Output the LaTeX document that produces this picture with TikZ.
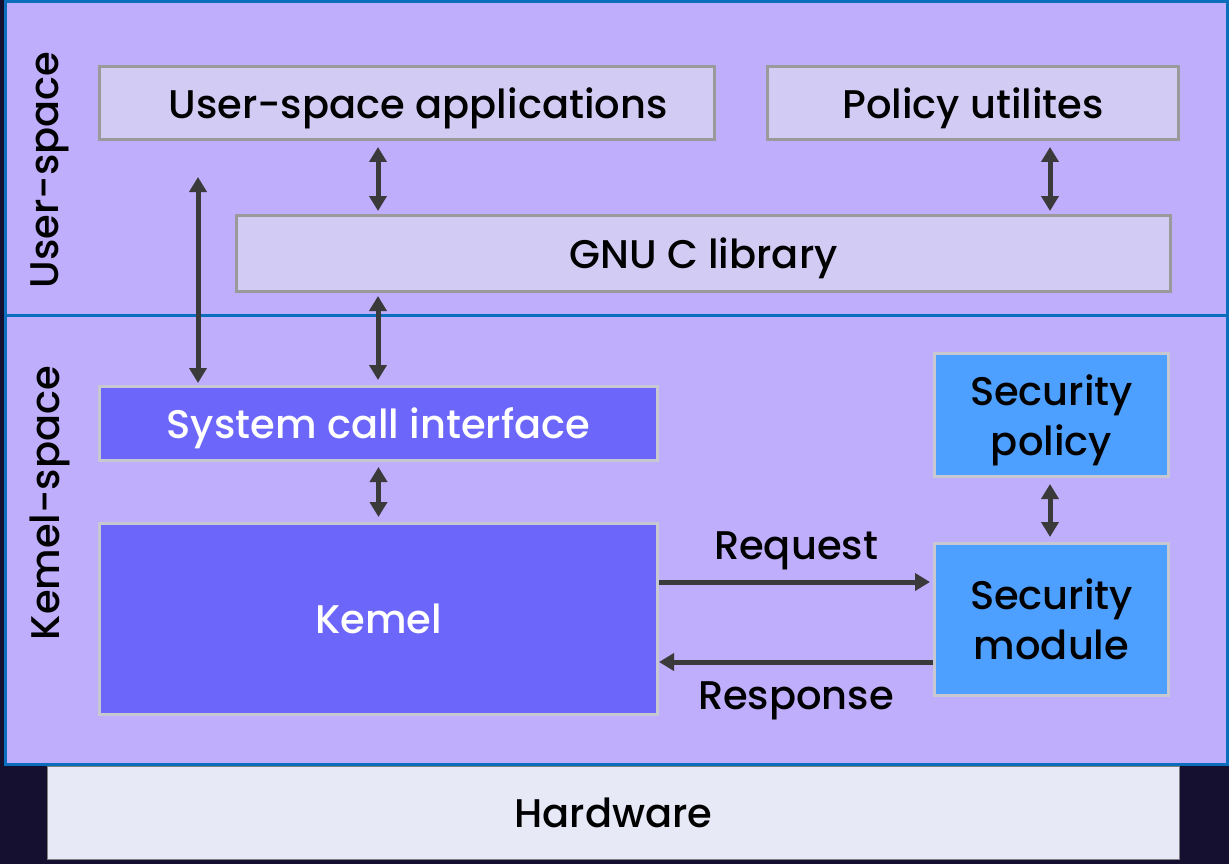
\documentclass[tikz,border=0pt]{standalone}
\usepackage{fontspec}
\setmainfont{Poppins Medium}
\usetikzlibrary{arrows.meta}
\begin{document}
\begin{tikzpicture}[x=1pt,y=-1pt,
  txt/.style={font=\fontsize{40}{50}\selectfont},
  box/.style={txt,draw=gbord,line width=3pt,inner sep=0pt,align=center,text depth=0pt},
  libbox/.style={box,fill=lilac},
  kernbox/.style={box,fill=kblue,draw=kbord,text=white},
  secbox/.style={box,fill=sblue,draw=kbord},
  dbl/.style={{Triangle[length=15pt,width=17pt]}-{Triangle[length=15pt,width=17pt]},line width=5pt,draw=agray},
  one/.style={-{Triangle[length=15pt,width=17pt]},line width=5pt,draw=agray}]
\definecolor{night}{HTML}{161030}
\definecolor{lav}{HTML}{BFAEFC}
\definecolor{edge}{HTML}{0A6EBD}
\definecolor{lilac}{HTML}{D2CCF5}
\definecolor{gbord}{HTML}{9A9A9A}
\definecolor{kblue}{HTML}{6C66FA}
\definecolor{kbord}{HTML}{C8C8D2}
\definecolor{sblue}{HTML}{4DA0FF}
\definecolor{hwfill}{HTML}{E7E9F7}
\definecolor{agray}{HTML}{3A3A3A}
% frame
\fill[night] (0,0) rectangle (1229,864);
\draw[edge,fill=lav,line width=3pt] (5,1.5) rectangle (1227,764);
\draw[edge,line width=3pt] (5,315) -- (1227,315);
\node[txt,rotate=90] (userlbl) at (50,170) {User-space};
\node[txt,rotate=90] (kernlbl) at (50,503) {Kemel-space};
% user-space
\node[libbox,minimum width=615,minimum height=73] (apps) at (407,103) {\hspace*{22pt}User-space applications};
\node[libbox,minimum width=411,minimum height=73] (utils) at (973,103) {Policy utilites};
\node[libbox,minimum width=934,minimum height=76] (glibc) at (703.5,253.5) {GNU C library};
% kernel-space
\node[kernbox,minimum width=558,minimum height=74] (syscall) at (378.5,423.5) {System call interface};
\node[kernbox,minimum width=558,minimum height=191] (kernel) at (378.5,619) {Kemel};
\node[secbox,minimum width=234,minimum height=123] (secpol) at (1051.5,415) {Security\\policy};
\node[secbox,minimum width=234,minimum height=152] (secmod) at (1051.5,619.5) {Security\\module};
\node[txt,fill=hwfill,draw=gray,line width=1pt,minimum width=1132,minimum height=93] (hw) at (613.5,813) {Hardware};
% arrows
\coordinate (direct) at (198,177);
\draw[dbl,shorten >=2pt] (direct) -- (direct |- syscall.north);
\draw[dbl,shorten <=6pt,shorten >=3pt] (apps.south -| 378,0) -- (glibc.north -| 378,0);
\draw[dbl,shorten <=6pt,shorten >=3pt] (utils.south -| 1050,0) -- (glibc.north -| 1050,0);
\draw[dbl,shorten <=3pt,shorten >=5pt] (glibc.south -| 378,0) -- (syscall.north -| 378,0);
\draw[dbl,shorten <=5pt,shorten >=5pt] (syscall.south) -- (kernel.north);
\draw[dbl,shorten <=6pt,shorten >=5pt] (secpol.south -| 1050,0) -- (secmod.north -| 1050,0);
\draw[one,shorten >=3pt] (kernel.east |- 0,582) -- node[txt,midway,above=6pt] (req) {Request} (secmod.west |- 0,582);
\draw[one] (secmod.west |- 0,662) -- node[txt,midway,below=14pt] (resp) {Response} (kernel.east |- 0,662);
\end{tikzpicture}
\end{document}
